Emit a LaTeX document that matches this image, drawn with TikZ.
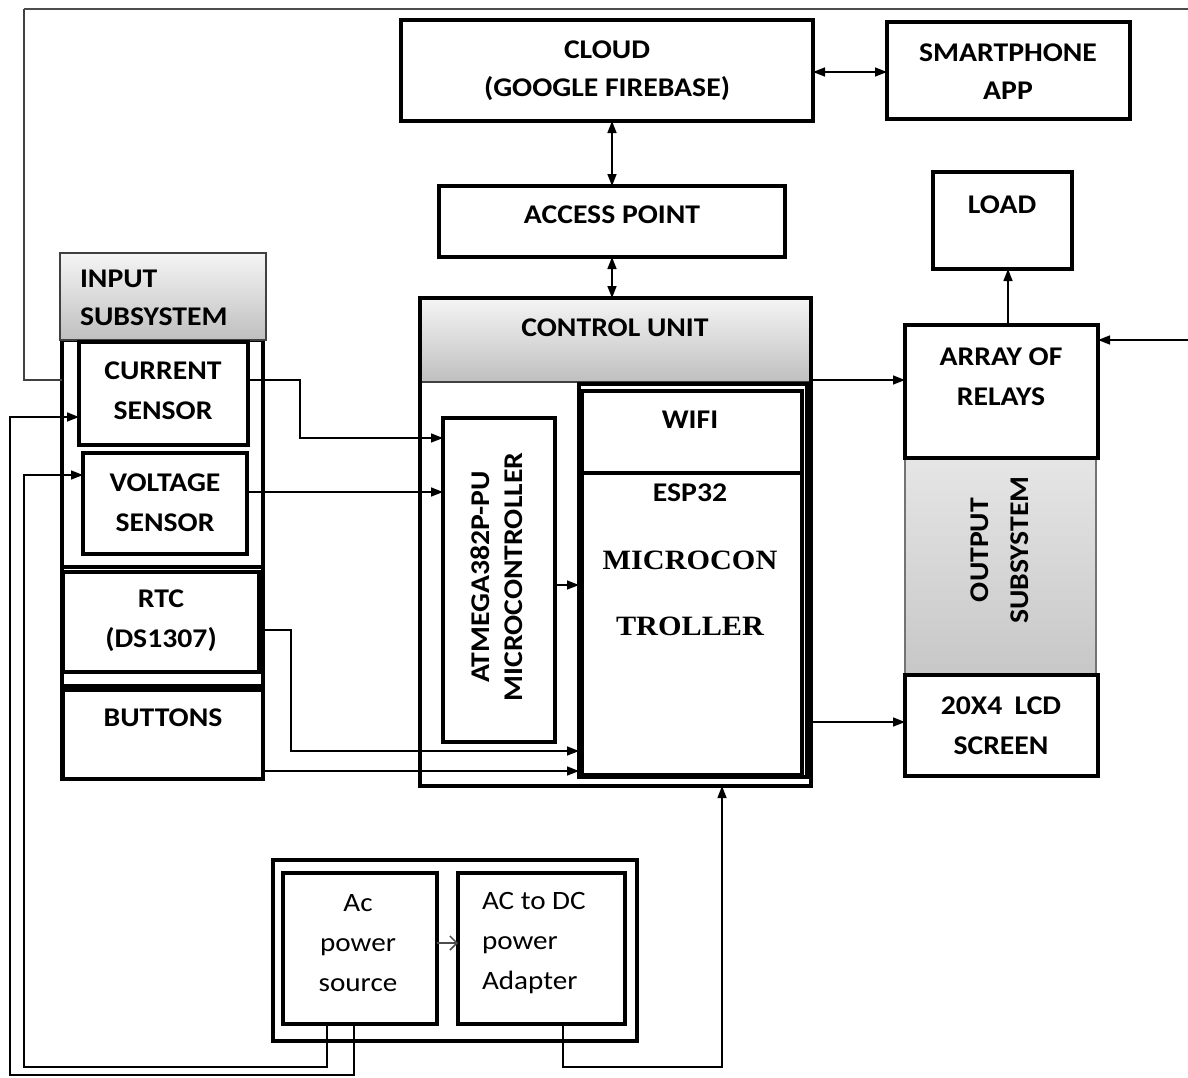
\documentclass[tikz,border=0pt]{standalone}
\usepackage{fontspec}
\setmainfont{Carlito}[FakeStretch=1.1]
\newfontfamily\tnr{Liberation Serif}[FakeStretch=1.08]
\usetikzlibrary{arrows.meta,calc}
\begin{document}
\begin{tikzpicture}[x=1pt,y=-1pt,
  every node/.style={inner sep=0pt, outer sep=0pt},
  box/.style={draw=black, line width=4.5pt, rectangle, fill=white},
  frame/.style={draw=black, line width=4.5pt, rectangle},
  hdr/.style={draw=black!75, line width=1.5pt, rectangle, top color=black!4, bottom color=black!25},
  graybox/.style={draw=black!55, line width=1.2pt, rectangle, top color=black!10, bottom color=black!22},
  lbl/.style={font=\bfseries\fontsize{27}{38}\selectfont, align=center, text=black},
  plain/.style={font=\fontsize{26.5}{40}\selectfont, text=black},
  serifl/.style={font=\tnr\bfseries\fontsize{28}{30}\selectfont, text=black},
  wire/.style={line width=1.5pt, draw=black},
  conn/.style={wire, -{Triangle[length=12pt,width=9pt]}},
  both/.style={wire, {Triangle[length=12pt,width=9pt]}-{Triangle[length=12pt,width=9pt]}},
]
\useasboundingbox (0,0) rectangle (1188,1077);
\fill[white] (0,0) rectangle (1188,1077);

% ---------- top row ----------
\node[box, minimum width=412, minimum height=101] (cloud) at (607,70.5) {};
\node[lbl, align=center] (tcloud) at (607,71) {\fontsize{27}{36}\selectfont CLOUD\\(GOOGLE FIREBASE)};
\node[box, minimum width=243, minimum height=97] (phone) at (1008.5,70.5) {};
\node[lbl] (tphone) at (1008,72) {SMARTPHONE\\APP};
\node[box, minimum width=346, minimum height=71] (ap) at (612,221.5) {};
\node[lbl] (tap) at (612,215) {ACCESS POINT};
\node[box, minimum width=139, minimum height=97] (load) at (1002.5,220.5) {};
\node[lbl] (tload) at (1002,205) {LOAD};

% ---------- input subsystem ----------
\node[frame, minimum width=201, minimum height=439] (inframe) at (162.5,559.5) {};
\node[hdr, minimum width=206, minimum height=87] (inhdr) at (163,296.5) {};
\node[lbl, align=left, anchor=west] (tin) at (80,298) {INPUT\\SUBSYSTEM};
\node[box, minimum width=169, minimum height=103] (cur) at (163.5,393.5) {};
\node[lbl, font=\bfseries\fontsize{27}{40}\selectfont] (tcur) at (163,391) {CURRENT\\SENSOR};
\node[box, minimum width=164, minimum height=101] (volt) at (165,503.5) {};
\node[lbl, font=\bfseries\fontsize{27}{40}\selectfont] (tvolt) at (165,503) {VOLTAGE\\SENSOR};
\draw[line width=4.5pt] (inframe.west |- 0,567) -- (inframe.east |- 0,567);
\node[box, minimum width=196, minimum height=100] (rtc) at (161,622) {};
\node[lbl, font=\bfseries\fontsize{27}{40}\selectfont] (trtc) at (161,621) {RTC\\(DS1307)};
\draw[line width=4.5pt] (inframe.west |- 0,686) -- (inframe.east |- 0,686);
\node[box, minimum width=200, minimum height=89] (btn) at (163,734.5) {};
\node[lbl] (tbtn) at (163,718) {BUTTONS};

% ---------- control unit ----------
\node[hdr, minimum width=391, minimum height=84] (cuhdr) at (615.5,340) {};
\node[frame, minimum width=391, minimum height=488] (cuframe) at (615.5,542) {};
\node[lbl] (tcu) at (615,328) {CONTROL UNIT};
\node[box, minimum width=112, minimum height=324] (atm) at (499,580) {};
\node[lbl, rotate=90, font=\bfseries\fontsize{27}{33}\selectfont] (tatm) at (497,577) {ATMEGA382P-PU\\MICROCONTROLLER};
\node[frame, minimum width=228, minimum height=393] (espo) at (693,580.5) {};
\node[box, minimum width=220, minimum height=82] (wifi) at (692,432) {};
\node[lbl] (twifi) at (690,420) {WIFI};
\node[box, minimum width=220, minimum height=302] (esp) at (692,624) {};
\node[lbl] (tesp32) at (690,493) {ESP32};
\node[serifl] (tmicro) at (690,560) {MICROCON};
\node[serifl] (ttrol) at (690,626) {TROLLER};

% ---------- output subsystem ----------
\node[graybox, minimum width=191, minimum height=217] (outg) at (1000.5,566.5) {};
\node[lbl, rotate=90, font=\bfseries\fontsize{27}{40}\selectfont] (tout) at (1000,550) {OUTPUT\\SUBSYSTEM};
\node[box, minimum width=193, minimum height=133] (rel) at (1001.5,391.5) {};
\node[lbl, font=\bfseries\fontsize{27}{40}\selectfont] (trel) at (1001,377) {ARRAY OF\\RELAYS};
\node[box, minimum width=193, minimum height=101] (lcd) at (1001.5,725.5) {};
\node[lbl, font=\bfseries\fontsize{27}{40}\selectfont] (tlcd) at (1001,726) {20X4\hspace{0.45em}LCD\\SCREEN};

% ---------- power ----------
\node[frame, minimum width=364, minimum height=181] (pwr) at (455,950.5) {};
\node[box, minimum width=154, minimum height=151] (acs) at (360,948.5) {};
\node[plain, align=center] (tacs) at (358,943) {Ac\\power\\source};
\node[box, minimum width=167, minimum height=151] (adp) at (541.5,948.5) {};
\node[plain, align=left, anchor=west] (tadp) at (482,943) {AC to DC\\power\\Adapter};

% ---------- coordinates ----------
\coordinate (y380) at (0,380);
\coordinate (y417) at (0,417);
\coordinate (y438) at (0,438);
\coordinate (y475) at (0,475);
\coordinate (y492) at (0,492);
\coordinate (y585) at (0,585);
\coordinate (y722) at (0,722);
\coordinate (y751) at (0,751);
\coordinate (y771) at (0,771);
\coordinate (y72) at (0,72);
\coordinate (y943) at (0,943);
\coordinate (x1008) at (1008,0);
\coordinate (c1a) at (24,9);
\coordinate (c1b) at (1196,9);
\coordinate (c1c) at (1196,340);
\coordinate (p2a) at (354,1075);
\coordinate (p2b) at (10,1075);
\coordinate (p3a) at (327,1067);
\coordinate (p3b) at (24,1067);
\coordinate (p4a) at (563,1067);
\coordinate (p4b) at (722,1067);
\coordinate (p5) at (300,380);
\coordinate (p7) at (291,630);

% ---------- connectors ----------
\draw[wire, draw=black!75] (inframe.west |- y380) -| (c1a);
\draw[wire, line width=2.2pt, draw=black!70] (c1a) -- (c1b);
\draw[conn] (c1b) -- (c1c) -- (rel.east |- c1c);
\draw[conn] (acs.south -| p2a) -- (p2a) -- (p2b) |- (cur.west |- y417);
\draw[conn] (acs.south -| p3a) -- (p3a) -- (p3b) |- (volt.west |- y475);
\draw[conn] (adp.south -| p4a) -- (p4a) -- (p4b) -- (cuframe.south -| p4b);
\draw[conn] (cur.east |- y380) -- (p5) |- (atm.west |- y438);
\draw[conn] (volt.east |- y492) -- (atm.west |- y492);
\draw[conn] (rtc.east |- p7) -- (p7) |- (espo.west |- y751);
\draw[conn] (btn.east |- y771) -- (espo.west |- y771);
\draw[conn] (atm.east |- y585) -- (espo.west |- y585);
\draw[conn] (cuframe.east |- y380) -- (rel.west |- y380);
\draw[conn] (cuframe.east |- y722) -- (lcd.west |- y722);
\draw[conn] (rel.north -| x1008) -- (load.south -| x1008);
\draw[both] (cloud.south -| ap.north) -- (ap.north);
\draw[both] (ap.south) -- (cuframe.north -| ap.south);
\draw[both] (cloud.east |- y72) -- (phone.west |- y72);
\draw[wire, draw=black!70, -{Straight Barb[length=7pt,width=14pt]}] (acs.east |- y943) -- (adp.west |- y943);
\end{tikzpicture}
\end{document}
